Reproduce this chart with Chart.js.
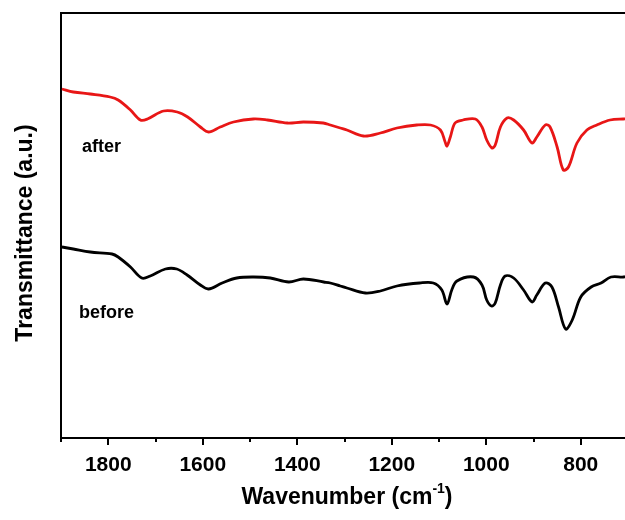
<!DOCTYPE html>
<html>
<head>
<meta charset="utf-8">
<script src="https://cdn.jsdelivr.net/npm/chart.js@4.4.0/dist/chart.umd.min.js"></script>
<style>
  html, body { margin: 0; padding: 0; background: #fff; overflow: hidden; }
  #wrap { width: 640px; height: 520px; }
</style>
</head>
<body>
<div id="wrap"><canvas id="ftir" width="640" height="520"></canvas></div>
<script>
// wavenumber (cm-1) and transmittance (a.u.)
var afterWn = [1898, 1874, 1838, 1796, 1779, 1753, 1732, 1717, 1683, 1654, 1632, 1605, 1588, 1563, 1535, 1493, 1463, 1421, 1387, 1345, 1330, 1309, 1295, 1260, 1224, 1189, 1147, 1118, 1097, 1087, 1083, 1076, 1066, 1049, 1023, 1009, 999, 988, 981, 970, 956, 942, 921, 903, 893, 875, 865, 850, 837, 826, 808, 787, 766, 738, 710, 700];
var afterT = [349, 346, 344, 341, 338, 328, 318, 319, 327, 326, 321, 311, 306, 311, 316, 319, 318, 315, 316, 315, 313, 310, 308, 302, 305, 310, 313, 313, 308, 296, 292, 301, 315, 318, 319, 311, 298, 290, 293, 311, 320, 318, 308, 295, 301, 313, 311, 291, 268, 271, 295, 308, 313, 318, 319, 319];

var beforeWn = [1898, 1874, 1838, 1792, 1779, 1753, 1729, 1711, 1679, 1655, 1633, 1605, 1588, 1559, 1528, 1492, 1457, 1418, 1387, 1344, 1330, 1309, 1295, 1256, 1224, 1189, 1141, 1112, 1094, 1083, 1073, 1062, 1027, 1009, 999, 989, 981, 970, 960, 942, 921, 903, 893, 875, 861, 847, 832, 818, 800, 778, 757, 736, 710, 700];
var beforeT = [191, 189, 186, 184, 181, 171, 160, 162, 169, 169, 163, 153, 149, 155, 160, 161, 160, 156, 159, 156, 155, 152, 150, 145, 147, 152, 155, 155, 148, 134, 148, 157, 161, 153, 138, 132, 135, 153, 162, 160, 148, 136, 143, 155, 151, 131, 109, 118, 141, 151, 155, 161, 161, 162];

var xTicksMajor = [1800, 1600, 1400, 1200, 1000, 800];

function pairs(xs, ys) {
    return xs.map(function (x, i) { return { x: x, y: ys[i] }; });
}

// frame, minor ticks, axis titles and curve labels
var decor = {
    id: 'decor',
    afterDraw: function (chart) {
        var c = chart.ctx;
        var area = chart.chartArea;
        var xs = chart.scales.x;
        c.save();
        c.strokeStyle = '#000';
        c.lineWidth = 2;
        c.beginPath();
        c.moveTo(area.left - 1, area.top);
        c.lineTo(chart.width, area.top);
        c.stroke();

        // minor ticks
        for (var v = 1900; v >= 700; v -= 100) {
            if (v % 200 === 0) continue;
            var px = Math.round(xs.getPixelForValue(v));
            c.beginPath();
            c.moveTo(px, area.bottom);
            c.lineTo(px, area.bottom + 4);
            c.stroke();
        }

        c.fillStyle = '#000';
        c.textBaseline = 'alphabetic';

        // x title with superscript
        var big = 'bold 23px "Liberation Sans", Arial, sans-serif';
        var small = 'bold 14px "Liberation Sans", Arial, sans-serif';
        c.font = big;
        var w1 = c.measureText('Wavenumber (cm').width;
        var w3 = c.measureText(')').width;
        c.font = small;
        var w2 = c.measureText('-1').width;
        var x0 = 347 - (w1 + w2 + w3) / 2;
        var yb = 504;
        c.font = big;
        c.textAlign = 'left';
        c.fillText('Wavenumber (cm', x0, yb);
        c.font = small;
        c.fillText('-1', x0 + w1, yb - 11);
        c.font = big;
        c.fillText(')', x0 + w1 + w2, yb);

        // y title
        c.save();
        c.translate(32, 233);
        c.rotate(-Math.PI / 2);
        c.textAlign = 'center';
        c.font = big;
        c.fillText('Transmittance (a.u.)', 0, 0);
        c.restore();

        // curve labels
        c.font = 'bold 18px "Liberation Sans", Arial, sans-serif';
        c.textAlign = 'left';
        c.fillText('after', 82, 152);
        c.fillText('before', 79, 318);
        c.restore();
    }
};

new Chart(document.getElementById('ftir'), {
    type: 'line',
    data: {
        datasets: [{
            label: 'after',
            data: pairs(afterWn, afterT),
            borderColor: 'rgb(232,22,22)',
            borderWidth: 2.8,
            pointRadius: 0,
            tension: 0.35,
            fill: false
        }, {
            label: 'before',
            data: pairs(beforeWn, beforeT),
            borderColor: '#000',
            borderWidth: 2.8,
            pointRadius: 0,
            tension: 0.35,
            fill: false
        }]
    },
    options: {
        responsive: false,
        animation: false,
        devicePixelRatio: 1,
        layout: { padding: { top: 13, right: 12, left: 0, bottom: 0 } },
        plugins: {
            legend: { display: false },
            tooltip: { enabled: false }
        },
        scales: {
            x: {
                type: 'linear',
                min: 700,
                max: 1900,
                reverse: true,
                grid: {
                    drawOnChartArea: false,
                    drawTicks: true,
                    tickLength: 7,
                    lineWidth: 2,
                    color: function (ctx) {
                        return (ctx.tick && xTicksMajor.includes(ctx.tick.value)) ? '#000' : 'rgba(0,0,0,0)';
                    }
                },
                border: { display: true, color: '#000', width: 2 },
                ticks: {
                    stepSize: 100,
                    autoSkip: false,
                    maxRotation: 0,
                    padding: 8,
                    color: '#000',
                    font: { family: '"Liberation Sans", Arial, sans-serif', size: 21, weight: 'bold' },
                    callback: function (v) {
                        return xTicksMajor.includes(v) ? String(v) : '';
                    }
                },
                afterFit: function (s) { s.height = 82; }
            },
            y: {
                min: 0,
                max: 425,
                grid: { display: false },
                border: { display: true, color: '#000', width: 2 },
                ticks: { display: false },
                afterFit: function (s) { s.width = 61; }
            }
        }
    },
    plugins: [decor]
});
</script>
</body>
</html>
